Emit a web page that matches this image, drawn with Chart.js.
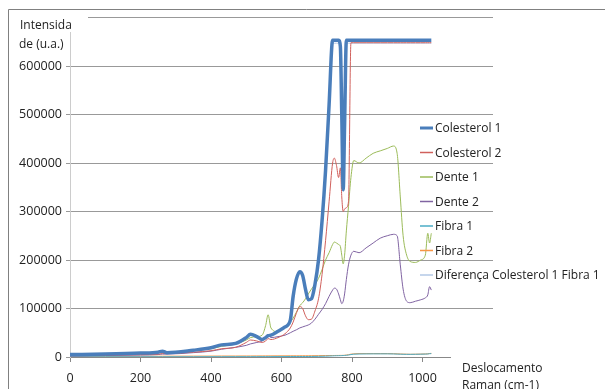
<!DOCTYPE html>
<html>
<head>
<meta charset="utf-8">
<script src="https://cdn.jsdelivr.net/npm/chart.js@4"></script>
<style>
html, body { margin: 0; padding: 0; background: #fff; }
</style>
</head>
<body>
<canvas id="chart" width="605" height="389"></canvas>
<script>
// Raman shift (cm-1) sample positions
var shifts = [0, 100, 200, 250, 262, 275, 350, 400, 430, 470,
    500, 512, 530, 545, 555, 562, 570, 590, 610, 625,
    633, 642, 652, 660, 668, 676, 685, 695, 705, 715,
    725, 735, 745, 750, 756, 762, 767, 771, 775, 779,
    784, 790, 797, 805, 820, 840, 860, 880, 900, 918,
    928, 937, 945, 955, 965, 980, 995, 1008, 1015, 1020, 1025]

var colesterol1 = [5000, 6000, 8000, 10000, 12000, 9000, 14000, 19000, 25000, 28000,
    40000, 47000, 42000, 36000, 40000, 44000, 45000, 53000, 62000, 76000,
    125000, 160000, 176000, 168000, 140000, 118000, 120000, 150000, 200000, 280000,
    385000, 520000, 653000, 653000, 653000, 653000, 640000, 500000, 345000, 480000,
    653000, 653000, 653000, 653000, 653000, 653000, 653000, 653000, 653000, 653000,
    653000, 653000, 653000, 653000, 653000, 653000, 653000, 653000, 653000, 653000, 653000]

var colesterol2 = [3000, 4000, 5000, 6000, 7000, 7000, 10000, 13000, 17000, 20000,
    30000, 35000, 33000, 30000, 33000, 38000, 36000, 40000, 48000, 60000,
    72000, 90000, 104000, 100000, 85000, 77000, 78000, 95000, 120000, 170000,
    240000, 320000, 400000, 410000, 395000, 370000, 390000, 330000, 300000, 305000,
    308000, 320000, 648000, 648000, 648000, 648000, 648000, 648000, 648000, 648000,
    648000, 648000, 648000, 648000, 648000, 648000, 648000, 648000, 648000, 648000, 648000]

var dente1 = [4000, 5000, 7000, 9000, 10000, 9000, 13000, 17000, 22000, 27000,
    35000, 40000, 42000, 45000, 65000, 87000, 60000, 52000, 62000, 72000,
    80000, 92000, 106000, 112000, 120000, 130000, 140000, 150000, 162000, 180000,
    200000, 215000, 232000, 237000, 235000, 232000, 228000, 210000, 192000, 210000,
    260000, 310000, 370000, 405000, 400000, 410000, 420000, 425000, 430000, 435000,
    420000, 330000, 250000, 210000, 197000, 195000, 200000, 210000, 255000, 235000, 255000]

var dente2 = [2000, 3000, 4000, 5000, 6000, 6000, 9000, 12000, 16000, 20000,
    24000, 27000, 30000, 33000, 40000, 45000, 40000, 42000, 45000, 50000,
    53000, 56000, 60000, 62000, 64000, 66000, 70000, 78000, 88000, 98000,
    110000, 125000, 138000, 142000, 140000, 130000, 118000, 110000, 115000, 130000,
    160000, 190000, 210000, 218000, 215000, 225000, 235000, 245000, 250000, 253000,
    250000, 190000, 140000, 115000, 112000, 115000, 118000, 122000, 128000, 145000, 138000]

var fibra1 = [500, 500, 500, 500, 500, 500, 500, 600, 600, 700,
    700, 700, 700, 800, 800, 800, 800, 900, 900, 1000,
    1000, 1000, 1000, 1000, 1000, 1000, 1100, 1200, 1300, 1500,
    1700, 2000, 2300, 2500, 2600, 2700, 2800, 2900, 3000, 3200,
    3500, 4000, 5000, 5800, 6200, 6400, 6500, 6500, 6500, 6300,
    6000, 5800, 5600, 5500, 5500, 5600, 5800, 6000, 6200, 6800, 7000]

var fibra2 = [1500, 1500, 1600, 1600, 1700, 1700, 1800, 1900, 2000, 2000,
    2100, 2100, 2200, 2200, 2300, 2300, 2300, 2400, 2400, 2500,
    2500, 2500, 2500, 2600, 2600, 2600, 2700, 2700, 2800, 2900,
    3000, 3000, 3100, 3100, 3200, 3200, 3300, 3300, 3400, 3600,
    4000, 4800, 5800, 6500, 7000, 7000, 7000, 7000, 7000, 6800,
    6500, 6200, 6000, 5800, 5600, 5800, 6000, 6300, 6600, 7200, 7500]

var diferenca = [4500, 5500, 7500, 9500, 11500, 8500, 13500, 18400, 24400, 27300,
    39300, 46300, 41300, 35200, 39200, 43200, 44200, 52100, 61100, 75000,
    124000, 159000, 175000, 167000, 139000, 117000, 118900, 148800, 198700, 278500,
    383300, 518000, 647000, 647000, 647000, 647000, 637200, 497100, 342000, 476800,
    647000, 647000, 647000, 647000, 647000, 647000, 647000, 647000, 647000, 647000,
    647000, 647000, 647000, 647000, 647000, 647000, 647000, 647000, 647000, 647000, 647000]

var seriesNames = ["Colesterol 1", "Colesterol 2", "Dente 1", "Dente 2", "Fibra 1", "Fibra 2", "Diferença Colesterol 1 Fibra 1"]
var seriesValues = [colesterol1, colesterol2, dente1, dente2, fibra1, fibra2, diferenca]
var seriesColors = ["#4a7ebb", "#d0605c", "#9bbb59", "#8064a2", "#4bacc6", "#f79646", "#b3c8e6"]
var seriesWidths = [3.5, 1, 1, 1, 1, 1, 1]

var xTicks = [0, 200, 400, 600, 800, 1000]
var yTicks = [0, 100000, 200000, 300000, 400000, 500000, 600000]

var font = "'Open Sans', sans-serif"

function toPoints(values) {
    return values.map(function(v, i) { return {x: shifts[i], y: v} })
}

var datasets = seriesNames.map(function(name, i) {
    return {
        label: name,
        data: toPoints(seriesValues[i]),
        borderColor: seriesColors[i],
        backgroundColor: seriesColors[i],
        borderWidth: seriesWidths[i],
        pointRadius: 0,
        cubicInterpolationMode: "monotone",
        fill: false
    }
})

// Titles, legend and frame are drawn by hand because they sit over the plot
var decorations = {
    id: "decorations",
    afterDraw: function(chart) {
        var ctx = chart.ctx
        ctx.save()

        // white boxes behind the axis titles
        ctx.fillStyle = "#fff"
        ctx.fillRect(9, 10, 79, 22)
        ctx.fillRect(451, 352, 154, 37)

        ctx.fillStyle = "#222"
        ctx.font = "12px " + font
        ctx.textAlign = "left"
        ctx.textBaseline = "alphabetic"
        ctx.fillText("Intensida", 20, 29)
        ctx.fillText("de (u.a.)", 19, 48)
        ctx.fillText("Deslocamento", 462, 372)
        ctx.fillText("Raman (cm-1)", 462, 389)

        // legend
        ctx.textBaseline = "middle"
        seriesNames.forEach(function(name, i) {
            var y = 128 + i * 24.5
            ctx.strokeStyle = seriesColors[i]
            ctx.lineWidth = seriesWidths[i] === 1 ? 1.5 : 3
            ctx.beginPath()
            ctx.moveTo(420, y)
            ctx.lineTo(433, y)
            ctx.stroke()
            ctx.fillStyle = "#222"
            ctx.fillText(name, 435, y + 1)
        })

        // outer frame
        ctx.strokeStyle = "#808080"
        ctx.lineWidth = 1
        ctx.beginPath()
        ctx.moveTo(8.5, 389)
        ctx.lineTo(8.5, 9.5)
        ctx.lineTo(605, 9.5)
        ctx.stroke()

        ctx.restore()
    }
}

new Chart(document.getElementById("chart"), {
    type: "line",
    data: {datasets: datasets},
    options: {
        responsive: false,
        animation: false,
        events: [],
        layout: {padding: {left: 0, top: 17.5, right: 112, bottom: 0}},
        plugins: {
            legend: {display: false},
            tooltip: {enabled: false}
        },
        scales: {
            x: {
                type: "linear",
                min: 0,
                max: 1200,
                afterBuildTicks: function(scale) {
                    scale.ticks = xTicks.map(function(v) { return {value: v} })
                },
                afterFit: function(scale) { scale.height = 32 },
                ticks: {
                    color: "#222",
                    font: {family: font, size: 12.5},
                    padding: 9,
                    maxRotation: 0,
                    callback: function(v) { return String(v) }
                },
                grid: {drawOnChartArea: false, drawTicks: true, tickLength: 5, color: "#888"},
                border: {color: "#888"}
            },
            y: {
                min: 0,
                max: 700000,
                afterBuildTicks: function(scale) {
                    scale.ticks = yTicks.concat([700000]).map(function(v) { return {value: v} })
                },
                afterFit: function(scale) { scale.width = 70 },
                ticks: {
                    color: "#222",
                    font: {family: font, size: 12.5},
                    padding: 4,
                    callback: function(v) { return v === 700000 ? "" : String(v) }
                },
                grid: {color: "#999", tickLength: 4},
                border: {color: "#ccc"}
            }
        }
    },
    plugins: [decorations]
})
</script>
</body>
</html>
